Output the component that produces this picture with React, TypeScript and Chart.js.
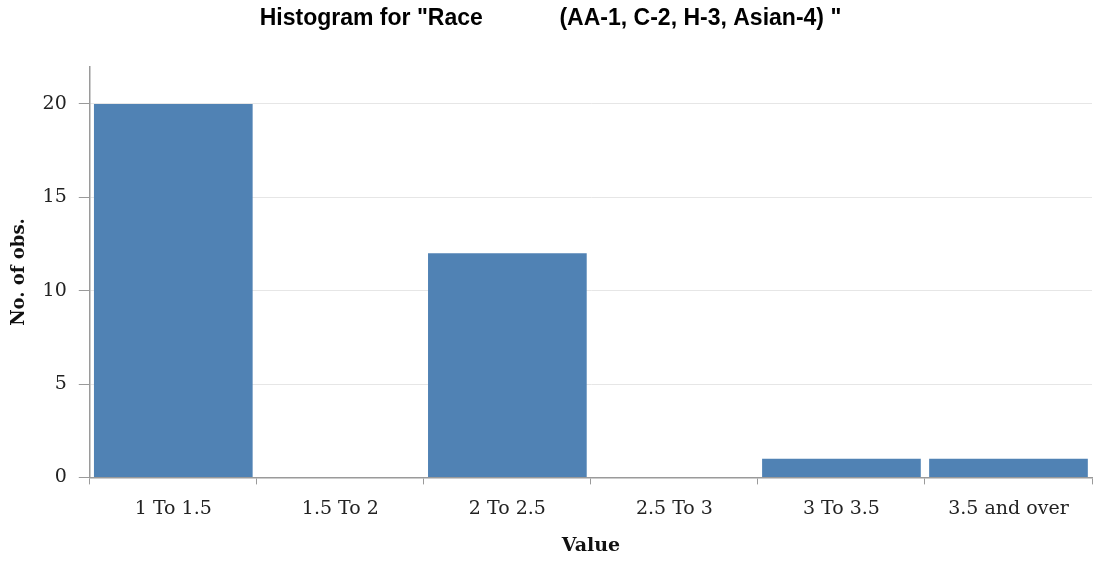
import React, { useEffect, useRef } from "react";
import { Chart, registerables } from "chart.js";

Chart.register(...registerables);

const categories = ["1 To 1.5", "1.5 To 2", "2 To 2.5", "2.5 To 3", "3 To 3.5", "3.5 and over"];
const counts = [20, 0, 12, 0, 1, 1];
const yTicks = [0, 5, 10, 15, 20];
const titleText = 'Histogram for "Race            (AA-1, C-2, H-3, Asian-4) "';

export default function App() {
  const ref = useRef<HTMLCanvasElement>(null);
  useEffect(() => {
    document.body.style.margin = "0";
    const serif = "'DejaVu Serif', 'Liberation Serif', serif";
    const chart = new Chart(ref.current!, {
      type: "bar",
      data: {
        labels: categories,
        datasets: [
          {
            label: "No. of obs.",
            data: counts,
            backgroundColor: "#5082B4",
            borderWidth: 0,
            barPercentage: 0.95,
            categoryPercentage: 1,
          },
        ],
      },
      options: {
        animation: false,
        responsive: false,
        maintainAspectRatio: false,
        layout: { padding: { left: 9, right: 2, top: 1, bottom: 6 } },
        plugins: {
          legend: { display: false },
          tooltip: { enabled: false },
          title: {
            display: true,
            text: titleText,
            color: "#000",
            font: { family: "'Liberation Sans', Arial, sans-serif", size: 23, weight: "bold" },
            padding: { top: 4, bottom: 34 },
          },
        },
        scales: {
          x: {
            offset: true,
            grid: {
              offset: true,
              drawOnChartArea: false,
              drawTicks: true,
              tickLength: 7,
              tickColor: "#9a9a9a",
            },
            border: { display: true, color: "#9a9a9a", width: 1.5 },
            ticks: { color: "#222", font: { family: serif, size: 19 }, padding: 13 },
            title: {
              display: true,
              text: "Value",
              color: "#111",
              font: { family: serif, size: 19, weight: "bold" },
              padding: { top: 1, bottom: 0 },
            },
          },
          y: {
            min: 0,
            max: 22,
            afterBuildTicks: (scale: any) => {
              scale.ticks = yTicks.map((v) => ({ value: v }));
            },
            grid: {
              color: "#e6e6e6",
              lineWidth: 1,
              drawTicks: true,
              tickLength: 11,
              tickColor: "#9a9a9a",
            },
            border: { display: true, color: "#9a9a9a", width: 1.5 },
            ticks: { color: "#222", font: { family: serif, size: 19 }, padding: 12 },
            title: {
              display: true,
              text: "No. of obs.",
              color: "#111",
              font: { family: serif, size: 18, weight: "bold" },
              padding: { top: 0, bottom: 0 },
            },
          },
        },
      },
    });
    return () => chart.destroy();
  }, []);
  return (
    <div style={{ width: 1094, height: 563 }}>
      <canvas ref={ref} width={1094} height={563} style={{ width: 1094, height: 563 }} />
    </div>
  );
}
